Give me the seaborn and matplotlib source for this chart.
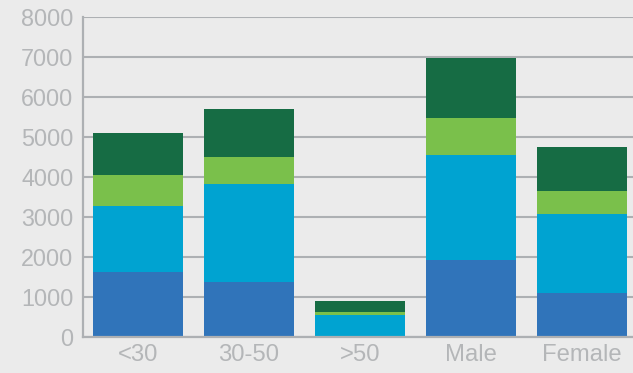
import matplotlib
matplotlib.use("Agg")
import matplotlib.pyplot as plt
import seaborn as sns
import numpy as np
import pandas as pd

categories = ["<30", "30-50", ">50", "Male", "Female"]
seg_blue = [1620, 1370, 25, 1920, 1100]
seg_cyan = [1650, 2450, 525, 2625, 1970]
seg_lightgreen = [775, 675, 75, 925, 575]
seg_darkgreen = [1050, 1200, 275, 1500, 1100]
y_ticks = [0, 1000, 2000, 3000, 4000, 5000, 6000, 7000, 8000]

colors = ["#3074BA", "#00A3D1", "#7AC04B", "#166C44"]
bg = "#EBEBEB"
grid_c = "#ADB0B3"
text_c = "#B4B6B8"

sns.set_theme(style="white")
plt.rcParams["font.family"] = ["Liberation Sans", "DejaVu Sans"]

segments = np.array([seg_blue, seg_cyan, seg_lightgreen, seg_darkgreen], dtype=float)
cum = np.cumsum(segments, axis=0)

fig = plt.figure(figsize=(6.33, 3.73), dpi=100, facecolor=bg)
ax = fig.add_axes([83 / 633, 36 / 373, 1 - 83 / 633, (337 - 16.7) / 373])
ax.set_facecolor(bg)

# draw stacked bars: tallest cumulative level first, then overlay lower levels
for level in range(3, -1, -1):
    df = pd.DataFrame({"cat": categories, "val": cum[level]})
    sns.barplot(data=df, x="cat", y="val", color=colors[level], width=0.81,
                saturation=1, errorbar=None, ax=ax, zorder=3, linewidth=0)

ax.set_ylim(0, 8000)
ax.set_xlim(-0.495, 4.46)
ax.set_yticks(y_ticks)
ax.set_yticklabels([str(t) for t in y_ticks])
ax.yaxis.grid(True, color=grid_c, linewidth=1.5, zorder=0)
ax.set_axisbelow(True)
ax.set_xlabel("")
ax.set_ylabel("")

for side in ["top", "right"]:
    ax.spines[side].set_visible(False)
for side in ["left", "bottom"]:
    ax.spines[side].set_color(grid_c)
    ax.spines[side].set_linewidth(1.6)
    ax.spines[side].set_zorder(4)

ax.tick_params(axis="both", length=0, labelcolor=text_c)
ax.tick_params(axis="y", pad=7, labelsize=16.8)
ax.tick_params(axis="x", pad=5, labelsize=17.2)

fig.savefig("out.png", dpi=100, facecolor=bg)
